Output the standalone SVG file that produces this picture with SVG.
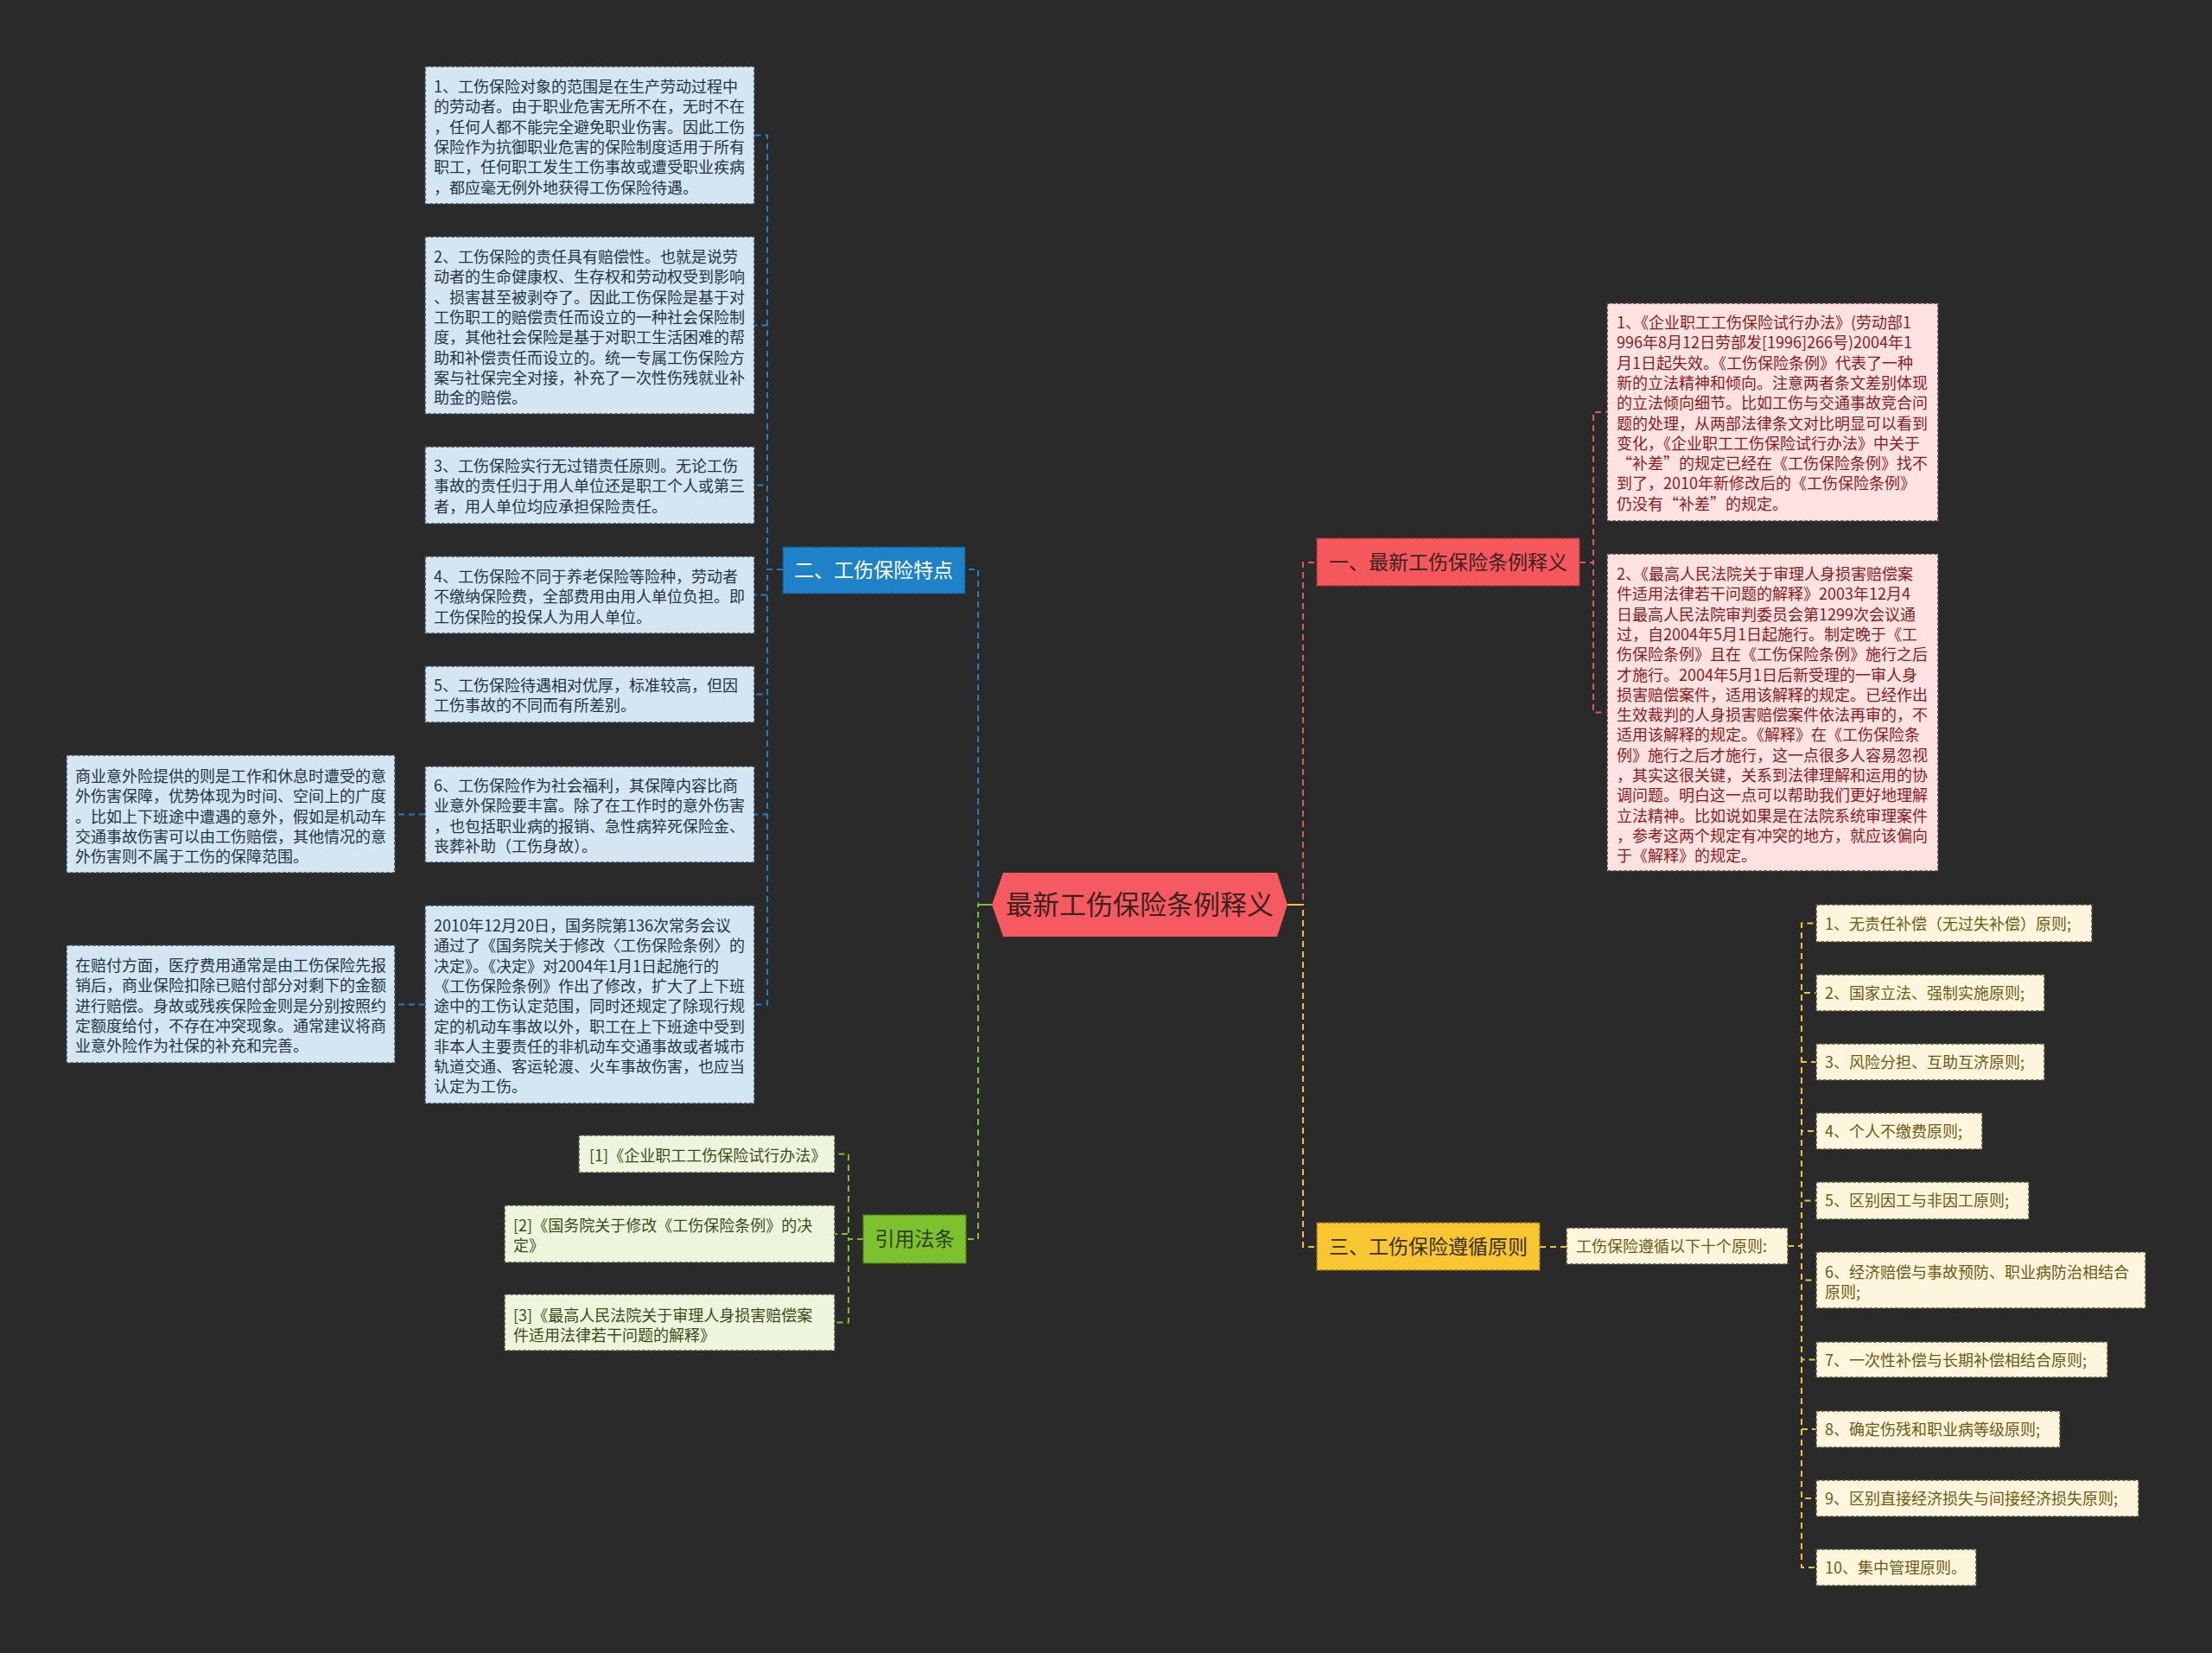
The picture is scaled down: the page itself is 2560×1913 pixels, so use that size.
<svg xmlns="http://www.w3.org/2000/svg" width="2560" height="1913" viewBox="0 0 2560 1913">
<style>
text{font-family:"Noto Sans CJK SC","Noto Sans",sans-serif;}
.leaf{font-size:18px;}
.lb{fill:#d4e6f2;stroke:#3c4a55;stroke-width:1.5;stroke-dasharray:4 2;}
.lbt{fill:#233444;}
.lp{fill:#fde2e2;stroke:#5a3a3a;stroke-width:1.5;stroke-dasharray:4 2;}
.lpt{fill:#8a1c1c;}
.ly{fill:#fdf6dd;stroke:#55503a;stroke-width:1.5;stroke-dasharray:4 2;}
.lyt{fill:#6e5a12;}
.lg{fill:#eef5dd;stroke:#4a5540;stroke-width:1.5;stroke-dasharray:4 2;}
.lgt{fill:#3b4d16;}
.br{font-size:23px;}
.c{fill:none;stroke-width:2;stroke-dasharray:7 5;}
.cb{stroke:#1f7fc8;}
.cr{stroke:#e0585d;}
.cy{stroke:#f2c230;}
.cg{stroke:#7cc22e;}
</style>
<rect x="0" y="0" width="2560" height="1913" fill="#2a2a2a"/>

<g id="connectors">
  <path class="c cb" d="M1148,1047 H1132 V659 H1117"/>
  <path class="c cg" d="M1148,1047 H1132 V1434 H1118"/>
  <path class="c cr" d="M1490,1047 H1508 V651 H1524"/>
  <path class="c cy" d="M1490,1047 H1508 V1443 H1524"/>
  <line x1="1132" y1="1047" x2="1148" y2="1047" stroke="#7cc22e" stroke-width="2"/>
  <line x1="1490" y1="1047" x2="1508" y2="1047" stroke="#f2c230" stroke-width="2"/>
  <path class="c cb" d="M906,659 H888 V156.5 H873"/>
  <path class="c cb" d="M906,659 H888 V376.5 H873"/>
  <path class="c cb" d="M906,659 H888 V561.5 H873"/>
  <path class="c cb" d="M906,659 H888 V688.5 H873"/>
  <path class="c cb" d="M906,659 H888 V803.5 H873"/>
  <path class="c cb" d="M906,659 H888 V942.5 H873"/>
  <path class="c cb" d="M906,659 H888 V1162.5 H873"/>
  <path class="c cb" d="M492,942.5 H457"/>
  <path class="c cb" d="M492,1162.5 H457"/>
  <path class="c cr" d="M1828,651 H1844 V477 H1860"/>
  <path class="c cr" d="M1828,651 H1844 V824.5 H1860"/>
  <path class="c cy" d="M1782,1443 H1813"/>
  <path class="c cy" d="M2069,1442 H2085 V1068.5 H2102"/>
  <path class="c cy" d="M2069,1442 H2085 V1149 H2102"/>
  <path class="c cy" d="M2069,1442 H2085 V1229 H2102"/>
  <path class="c cy" d="M2069,1442 H2085 V1309 H2102"/>
  <path class="c cy" d="M2069,1442 H2085 V1389.5 H2102"/>
  <path class="c cy" d="M2069,1442 H2085 V1481.5 H2102"/>
  <path class="c cy" d="M2069,1442 H2085 V1573.5 H2102"/>
  <path class="c cy" d="M2069,1442 H2085 V1654 H2102"/>
  <path class="c cy" d="M2069,1442 H2085 V1734 H2102"/>
  <path class="c cy" d="M2069,1442 H2085 V1814 H2102"/>
  <path class="c cg" d="M999,1434 H982 V1335.5 H966"/>
  <path class="c cg" d="M999,1434 H982 V1428 H966"/>
  <path class="c cg" d="M999,1434 H982 V1530.5 H966"/>
</g>

<g id="root">
  <polygon points="1148,1047 1161,1010 1478,1010 1490,1047 1478,1084 1161,1084" fill="#f45a5f"/>
  <text x="1319" y="1058" font-size="31" text-anchor="middle" fill="#3a2222">最新工伤保险条例释义</text>
</g>

<g id="branch-1">
  <rect x="1524" y="623" width="304" height="55" fill="#f4585d" stroke="#a83238" stroke-width="1.5" stroke-dasharray="4 2"/>
  <text class="br" x="1676" y="659" text-anchor="middle" fill="#3d2020">一、最新工伤保险条例释义</text>
</g>
<g id="branch-2">
  <rect x="906" y="633" width="211" height="54" fill="#1f82c9" stroke="#12507e" stroke-width="1.5" stroke-dasharray="4 2"/>
  <text class="br" x="1011" y="668" text-anchor="middle" fill="#ffffff">二、工伤保险特点</text>
</g>
<g id="branch-3">
  <rect x="1524" y="1415" width="258" height="55" fill="#f7c632" stroke="#8a6e10" stroke-width="1.5" stroke-dasharray="4 2"/>
  <text class="br" x="1653" y="1451" text-anchor="middle" fill="#3a2e10">三、工伤保险遵循原则</text>
</g>
<g id="branch-4">
  <rect x="999" y="1406" width="119" height="56" fill="#7cc22e" stroke="#4a7a14" stroke-width="1.5" stroke-dasharray="4 2"/>
  <text class="br" x="1058.5" y="1442" text-anchor="middle" fill="#2e3d12">引用法条</text>
</g>

<g id="leaf-b1" class="leaf">
  <rect class="lb" x="492" y="77" width="381" height="159"/>
  <text class="lbt" x="502" y="107"><tspan x="502" dy="0">1、工伤保险对象的范围是在生产劳动过程中</tspan><tspan x="502" dy="23.3">的劳动者。由于职业危害无所不在，无时不在</tspan><tspan x="502" dy="23.3">，任何人都不能完全避免职业伤害。因此工伤</tspan><tspan x="502" dy="23.3">保险作为抗御职业危害的保险制度适用于所有</tspan><tspan x="502" dy="23.3">职工，任何职工发生工伤事故或遭受职业疾病</tspan><tspan x="502" dy="23.3">，都应毫无例外地获得工伤保险待遇。</tspan></text>
</g>
<g id="leaf-b2" class="leaf">
  <rect class="lb" x="492" y="274" width="381" height="205"/>
  <text class="lbt" x="502" y="304"><tspan x="502" dy="0">2、工伤保险的责任具有赔偿性。也就是说劳</tspan><tspan x="502" dy="23.3">动者的生命健康权、生存权和劳动权受到影响</tspan><tspan x="502" dy="23.3">、损害甚至被剥夺了。因此工伤保险是基于对</tspan><tspan x="502" dy="23.3">工伤职工的赔偿责任而设立的一种社会保险制</tspan><tspan x="502" dy="23.3">度，其他社会保险是基于对职工生活困难的帮</tspan><tspan x="502" dy="23.3">助和补偿责任而设立的。统一专属工伤保险方</tspan><tspan x="502" dy="23.3">案与社保完全对接，补充了一次性伤残就业补</tspan><tspan x="502" dy="23.3">助金的赔偿。</tspan></text>
</g>
<g id="leaf-b3" class="leaf">
  <rect class="lb" x="492" y="517" width="381" height="89"/>
  <text class="lbt" x="502" y="546"><tspan x="502" dy="0">3、工伤保险实行无过错责任原则。无论工伤</tspan><tspan x="502" dy="23.3">事故的责任归于用人单位还是职工个人或第三</tspan><tspan x="502" dy="23.3">者，用人单位均应承担保险责任。</tspan></text>
</g>
<g id="leaf-b4" class="leaf">
  <rect class="lb" x="492" y="644" width="381" height="89"/>
  <text class="lbt" x="502" y="674"><tspan x="502" dy="0">4、工伤保险不同于养老保险等险种，劳动者</tspan><tspan x="502" dy="23.3">不缴纳保险费，全部费用由用人单位负担。即</tspan><tspan x="502" dy="23.3">工伤保险的投保人为用人单位。</tspan></text>
</g>
<g id="leaf-b5" class="leaf">
  <rect class="lb" x="492" y="771" width="381" height="65"/>
  <text class="lbt" x="502" y="800"><tspan x="502" dy="0">5、工伤保险待遇相对优厚，标准较高，但因</tspan><tspan x="502" dy="23.3">工伤事故的不同而有所差别。</tspan></text>
</g>
<g id="leaf-b6" class="leaf">
  <rect class="lb" x="492" y="887" width="381" height="111"/>
  <text class="lbt" x="502" y="916"><tspan x="502" dy="0">6、工伤保险作为社会福利，其保障内容比商</tspan><tspan x="502" dy="23.3">业意外保险要丰富。除了在工作时的意外伤害</tspan><tspan x="502" dy="23.3">，也包括职业病的报销、急性病猝死保险金、</tspan><tspan x="502" dy="23.3">丧葬补助（工伤身故）。</tspan></text>
</g>
<g id="leaf-b7" class="leaf">
  <rect class="lb" x="492" y="1048" width="381" height="229"/>
  <text class="lbt" x="502" y="1078"><tspan x="502" dy="0">2010年12月20日，国务院第136次常务会议</tspan><tspan x="502" dy="23.3">通过了《国务院关于修改〈工伤保险条例〉的</tspan><tspan x="502" dy="23.3">决定》。《决定》对2004年1月1日起施行的</tspan><tspan x="502" dy="23.3">《工伤保险条例》作出了修改，扩大了上下班</tspan><tspan x="502" dy="23.3">途中的工伤认定范围，同时还规定了除现行规</tspan><tspan x="502" dy="23.3">定的机动车事故以外，职工在上下班途中受到</tspan><tspan x="502" dy="23.3">非本人主要责任的非机动车交通事故或者城市</tspan><tspan x="502" dy="23.3">轨道交通、客运轮渡、火车事故伤害，也应当</tspan><tspan x="502" dy="23.3">认定为工伤。</tspan></text>
</g>
<g id="leaf-b6a" class="leaf">
  <rect class="lb" x="77" y="874" width="380" height="136"/>
  <text class="lbt" x="87" y="905"><tspan x="87" dy="0">商业意外险提供的则是工作和休息时遭受的意</tspan><tspan x="87" dy="23.3">外伤害保障，优势体现为时间、空间上的广度</tspan><tspan x="87" dy="23.3">。比如上下班途中遭遇的意外，假如是机动车</tspan><tspan x="87" dy="23.3">交通事故伤害可以由工伤赔偿，其他情况的意</tspan><tspan x="87" dy="23.3">外伤害则不属于工伤的保障范围。</tspan></text>
</g>
<g id="leaf-b7a" class="leaf">
  <rect class="lb" x="77" y="1094" width="380" height="136"/>
  <text class="lbt" x="87" y="1124"><tspan x="87" dy="0">在赔付方面，医疗费用通常是由工伤保险先报</tspan><tspan x="87" dy="23.3">销后，商业保险扣除已赔付部分对剩下的金额</tspan><tspan x="87" dy="23.3">进行赔偿。身故或残疾保险金则是分别按照约</tspan><tspan x="87" dy="23.3">定额度给付，不存在冲突现象。通常建议将商</tspan><tspan x="87" dy="23.3">业意外险作为社保的补充和完善。</tspan></text>
</g>

<g id="leaf-p1" class="leaf">
  <rect class="lp" x="1860" y="351" width="383" height="252"/>
  <text class="lpt" x="1871" y="380"><tspan x="1871" dy="0">1、《企业职工工伤保险试行办法》(劳动部1</tspan><tspan x="1871" dy="23.3">996年8月12日劳部发[1996]266号)2004年1</tspan><tspan x="1871" dy="23.3">月1日起失效。《工伤保险条例》代表了一种</tspan><tspan x="1871" dy="23.3">新的立法精神和倾向。注意两者条文差别体现</tspan><tspan x="1871" dy="23.3">的立法倾向细节。比如工伤与交通事故竞合问</tspan><tspan x="1871" dy="23.3">题的处理，从两部法律条文对比明显可以看到</tspan><tspan x="1871" dy="23.3">变化，《企业职工工伤保险试行办法》中关于</tspan><tspan x="1871" dy="23.3">“补差”的规定已经在《工伤保险条例》找不</tspan><tspan x="1871" dy="23.3">到了，2010年新修改后的《工伤保险条例》</tspan><tspan x="1871" dy="23.3">仍没有“补差”的规定。</tspan></text>
</g>
<g id="leaf-p2" class="leaf">
  <rect class="lp" x="1860" y="641" width="383" height="367"/>
  <text class="lpt" x="1871" y="671"><tspan x="1871" dy="0">2、《最高人民法院关于审理人身损害赔偿案</tspan><tspan x="1871" dy="23.3">件适用法律若干问题的解释》2003年12月4</tspan><tspan x="1871" dy="23.3">日最高人民法院审判委员会第1299次会议通</tspan><tspan x="1871" dy="23.3">过，自2004年5月1日起施行。制定晚于《工</tspan><tspan x="1871" dy="23.3">伤保险条例》且在《工伤保险条例》施行之后</tspan><tspan x="1871" dy="23.3">才施行。2004年5月1日后新受理的一审人身</tspan><tspan x="1871" dy="23.3">损害赔偿案件，适用该解释的规定。已经作出</tspan><tspan x="1871" dy="23.3">生效裁判的人身损害赔偿案件依法再审的，不</tspan><tspan x="1871" dy="23.3">适用该解释的规定。《解释》在《工伤保险条</tspan><tspan x="1871" dy="23.3">例》施行之后才施行，这一点很多人容易忽视</tspan><tspan x="1871" dy="23.3">，其实这很关键，关系到法律理解和运用的协</tspan><tspan x="1871" dy="23.3">调问题。明白这一点可以帮助我们更好地理解</tspan><tspan x="1871" dy="23.3">立法精神。比如说如果是在法院系统审理案件</tspan><tspan x="1871" dy="23.3">，参考这两个规定有冲突的地方，就应该偏向</tspan><tspan x="1871" dy="23.3">于《解释》的规定。</tspan></text>
</g>

<g id="leaf-y0" class="leaf">
  <rect class="ly" x="1813" y="1421" width="256" height="42"/>
  <text class="lyt" x="1824" y="1449">工伤保险遵循以下十个原则:</text>
</g>
<g id="leaf-y1" class="leaf"><rect class="ly" x="2102" y="1047" width="319" height="43"/><text class="lyt" x="2112" y="1076">1、无责任补偿（无过失补偿）原则;</text></g>
<g id="leaf-y2" class="leaf"><rect class="ly" x="2102" y="1128" width="264" height="42"/><text class="lyt" x="2112" y="1156">2、国家立法、强制实施原则;</text></g>
<g id="leaf-y3" class="leaf"><rect class="ly" x="2102" y="1208" width="264" height="42"/><text class="lyt" x="2112" y="1236">3、风险分担、互助互济原则;</text></g>
<g id="leaf-y4" class="leaf"><rect class="ly" x="2102" y="1288" width="192" height="42"/><text class="lyt" x="2112" y="1316">4、个人不缴费原则;</text></g>
<g id="leaf-y5" class="leaf"><rect class="ly" x="2102" y="1368" width="246" height="43"/><text class="lyt" x="2112" y="1396">5、区别因工与非因工原则;</text></g>
<g id="leaf-y6" class="leaf"><rect class="ly" x="2102" y="1449" width="381" height="65"/><text class="lyt" x="2112" y="1479"><tspan x="2112" dy="0">6、经济赔偿与事故预防、职业病防治相结合</tspan><tspan x="2112" dy="23.3">原则;</tspan></text></g>
<g id="leaf-y7" class="leaf"><rect class="ly" x="2102" y="1553" width="337" height="41"/><text class="lyt" x="2112" y="1581">7、一次性补偿与长期补偿相结合原则;</text></g>
<g id="leaf-y8" class="leaf"><rect class="ly" x="2102" y="1633" width="282" height="42"/><text class="lyt" x="2112" y="1661">8、确定伤残和职业病等级原则;</text></g>
<g id="leaf-y9" class="leaf"><rect class="ly" x="2102" y="1713" width="373" height="42"/><text class="lyt" x="2112" y="1741">9、区别直接经济损失与间接经济损失原则;</text></g>
<g id="leaf-y10" class="leaf"><rect class="ly" x="2102" y="1793" width="185" height="42"/><text class="lyt" x="2112" y="1821">10、集中管理原则。</text></g>

<g id="leaf-g1" class="leaf"><rect class="lg" x="670" y="1314" width="296" height="43"/><text class="lgt" x="682" y="1344">[1]《企业职工工伤保险试行办法》</text></g>
<g id="leaf-g2" class="leaf"><rect class="lg" x="584" y="1395" width="382" height="66"/><text class="lgt" x="594" y="1425"><tspan x="594" dy="0">[2]《国务院关于修改《工伤保险条例》的决</tspan><tspan x="594" dy="23.3">定》</tspan></text></g>
<g id="leaf-g3" class="leaf"><rect class="lg" x="584" y="1498" width="382" height="65"/><text class="lgt" x="594" y="1529"><tspan x="594" dy="0">[3]《最高人民法院关于审理人身损害赔偿案</tspan><tspan x="594" dy="23.3">件适用法律若干问题的解释》</tspan></text></g>
</svg>
